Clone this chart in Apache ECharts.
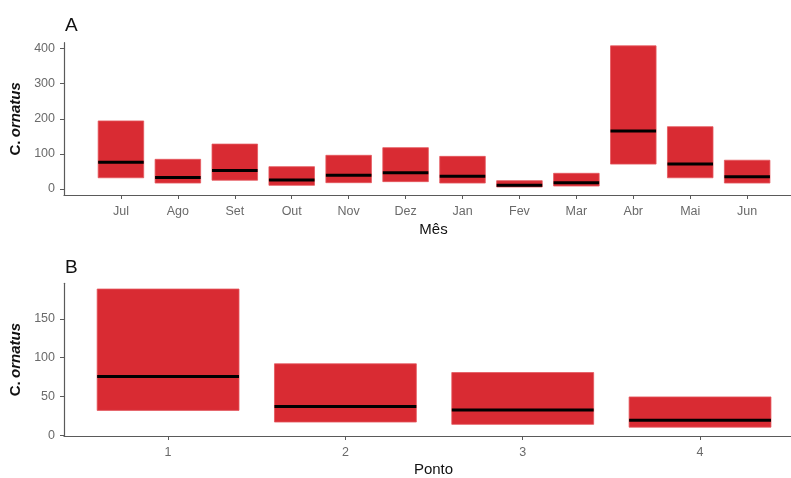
<!DOCTYPE html>
<html>
<head>
<meta charset="utf-8">
<script src="https://cdn.jsdelivr.net/npm/echarts@6/dist/echarts.min.js"></script>
<style>
  html, body { margin: 0; padding: 0; background: #fff; }
  #chart { width: 791px; height: 478px; }
</style>
</head>
<body>
<div id="chart"></div>
<script>
// Panel A: monthly C. ornatus counts (lower bound, median, upper bound)
const months = ['Jul', 'Ago', 'Set', 'Out', 'Nov', 'Dez', 'Jan', 'Fev', 'Mar', 'Abr', 'Mai', 'Jun'];
const monthLow = [32, 17, 25, 10.5, 18, 21, 17, 5.7, 8.5, 71, 32, 17];
const monthMed = [76, 33, 53, 25.7, 39, 46.5, 36, 10.5, 18, 165, 71, 35];
const monthHigh = [194, 84.6, 128, 63.6, 96, 117.8, 93, 23.7, 44.7, 408, 177.6, 82];

// Panel B: counts per sampling point
const points = ['1', '2', '3', '4'];
const pointLow = [32, 17, 14, 10.4];
const pointMed = [75.6, 37, 32.4, 19.3];
const pointHigh = [188.3, 92, 80.7, 49.3];

// Tick values
const monthTicksY = [0, 100, 200, 300, 400];
const pointTicksY = [0, 50, 100, 150];

const RED = '#d92b33';
const AXIS = '#5a5a5a';
const LABEL = '#6a6a6a';
const FONT = 'Liberation Sans, Arial, sans-serif';

function boxRows(low, med, high) {
  return low.map((l, i) => [i + 1, l, med[i], high[i]]);
}

function renderBox(params, api) {
  const x = api.value(0);
  const lo = api.value(1);
  const md = api.value(2);
  const hi = api.value(3);
  const half = 0.4;
  const p1 = api.coord([x - half, hi]);
  const p2 = api.coord([x + half, lo]);
  const m1 = api.coord([x - half, md]);
  const m2 = api.coord([x + half, md]);
  return {
    type: 'group',
    children: [
      {
        type: 'rect',
        shape: { x: p1[0], y: p1[1], width: p2[0] - p1[0], height: p2[1] - p1[1] },
        style: { fill: RED, stroke: '#e4575d', lineWidth: 0.8 }
      },
      {
        type: 'line',
        shape: { x1: m1[0], y1: m1[1], x2: m2[0], y2: m2[1] },
        style: { stroke: '#000', lineWidth: 3 }
      }
    ]
  };
}

const yName = {
  name: '{n|C.} {i|ornatus}',
  nameLocation: 'middle',
  nameRotate: 90,
  nameGap: 41,
  nameTextStyle: {
    rich: {
      n: { fontFamily: FONT, fontWeight: 'bold', fontStyle: 'normal', fontSize: 15, color: '#111' },
      i: { fontFamily: FONT, fontWeight: 'bold', fontStyle: 'italic', fontSize: 15, color: '#111' }
    }
  }
};

function xAxisCommon(extra) {
  return Object.assign({
    type: 'value',
    axisLine: { show: true, onZero: false, lineStyle: { color: AXIS, width: 1.2 } },
    splitLine: { show: false },
    nameLocation: 'middle',
    nameGap: 27,
    nameTextStyle: { color: '#111', fontSize: 15, fontFamily: FONT, padding: [0, 0, 0, 12] }
  }, extra);
}

function yAxisCommon(extra) {
  return Object.assign({
    type: 'value',
    axisLine: { show: true, onZero: false, lineStyle: { color: AXIS, width: 1.2 } },
    splitLine: { show: false }
  }, yName, extra);
}

const chart = echarts.init(document.getElementById('chart'), null, { renderer: 'canvas' });

chart.setOption({
  backgroundColor: '#fff',
  animation: false,
  title: [
    { text: 'A', left: 60, top: 11, textStyle: { fontSize: 19, fontWeight: 'normal', color: '#111', fontFamily: FONT } },
    { text: 'B', left: 60, top: 253, textStyle: { fontSize: 19, fontWeight: 'normal', color: '#111', fontFamily: FONT } }
  ],
  grid: [
    { left: 63.5, right: 0, top: 42.7, height: 152.3 },
    { left: 63.5, right: 0, top: 283.3, height: 155 }
  ],
  xAxis: [
    xAxisCommon({
      gridIndex: 0, min: 0, max: 12.77,
      name: 'Mês',
      axisTick: { show: true, length: 4, lineStyle: { color: AXIS }, customValues: months.map((m, i) => i + 1) },
      axisLabel: {
        color: LABEL, fontSize: 12.5, margin: 10, fontFamily: FONT,
        customValues: months.map((m, i) => i + 1),
        formatter: v => months[Math.round(v) - 1] || ''
      }
    }),
    xAxisCommon({
      gridIndex: 1, min: 0.413, max: 4.513,
      name: 'Ponto',
      nameGap: 26,
      axisTick: { show: true, length: 4, lineStyle: { color: AXIS }, customValues: points.map((p, i) => i + 1) },
      axisLabel: {
        color: LABEL, fontSize: 12.5, margin: 10, fontFamily: FONT,
        customValues: points.map((p, i) => i + 1),
        formatter: v => points[Math.round(v) - 1] || ''
      }
    })
  ],
  yAxis: [
    yAxisCommon({
      gridIndex: 0, min: -17.1, max: 417,
      axisTick: { show: true, length: 4, lineStyle: { color: AXIS }, customValues: monthTicksY },
      axisLabel: { color: LABEL, fontSize: 12.5, margin: 9, fontFamily: FONT, customValues: monthTicksY }
    }),
    yAxisCommon({
      gridIndex: 1, min: -1.0, max: 195.7,
      axisTick: { show: true, length: 4, lineStyle: { color: AXIS }, customValues: pointTicksY },
      axisLabel: { color: LABEL, fontSize: 12.5, margin: 9, fontFamily: FONT, customValues: pointTicksY }
    })
  ],
  series: [
    {
      type: 'custom', xAxisIndex: 0, yAxisIndex: 0,
      renderItem: renderBox,
      encode: { x: 0, y: [1, 2, 3] },
      data: boxRows(monthLow, monthMed, monthHigh)
    },
    {
      type: 'custom', xAxisIndex: 1, yAxisIndex: 1,
      renderItem: renderBox,
      encode: { x: 0, y: [1, 2, 3] },
      data: boxRows(pointLow, pointMed, pointHigh)
    }
  ]
});
</script>
</body>
</html>
